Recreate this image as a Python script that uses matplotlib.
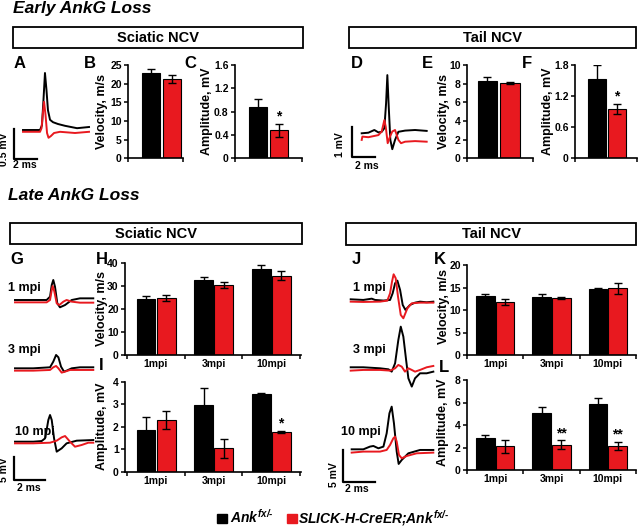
import numpy as np
import matplotlib
matplotlib.use("Agg")
import matplotlib.pyplot as plt
from matplotlib.patches import Rectangle

plt.rcParams['font.family'] = ['Liberation Sans', 'DejaVu Sans']
plt.rcParams['font.weight'] = 'bold'
plt.rcParams['mathtext.fontset'] = 'custom'
plt.rcParams['mathtext.it'] = 'Liberation Sans:italic:bold'
plt.rcParams['mathtext.rm'] = 'Liberation Sans:italic:bold'
plt.rcParams['mathtext.bf'] = 'Liberation Sans:bold'

CTRL = 'black'
KO = '#e8191f'

# ---- bar data (mean, s.e.m.) ----
timepoints = ['1mpi', '3mpi', '10mpi']

early_sciatic_vel = [22.8, 21.2]
early_sciatic_vel_err = [1.2, 1.0]
early_sciatic_amp = [0.88, 0.48]
early_sciatic_amp_err = [0.13, 0.11]
early_sciatic_amp_sig = ['', '*']

early_tail_vel = [8.32, 8.1]
early_tail_vel_err = [0.36, 0.12]
early_tail_amp = [1.53, 0.95]
early_tail_amp_err = [0.27, 0.1]
early_tail_amp_sig = ['', '*']

late_sciatic_vel_ctrl = [24.4, 32.7, 37.5]
late_sciatic_vel_ctrl_err = [1.5, 1.5, 1.8]
late_sciatic_vel_ko = [24.7, 30.5, 34.5]
late_sciatic_vel_ko_err = [1.3, 1.2, 2.0]

late_sciatic_amp_ctrl = [1.85, 2.96, 3.45]
late_sciatic_amp_ctrl_err = [0.6, 0.74, 0.05]
late_sciatic_amp_ko = [2.32, 1.04, 1.78]
late_sciatic_amp_ko_err = [0.4, 0.42, 0.05]
late_sciatic_amp_sig = ['', '', '*']

late_tail_vel_ctrl = [13.2, 12.96, 14.6]
late_tail_vel_ctrl_err = [0.3, 0.5, 0.3]
late_tail_vel_ko = [11.85, 12.7, 14.8]
late_tail_vel_ko_err = [0.7, 0.3, 1.3]

late_tail_amp_ctrl = [2.81, 5.04, 5.84]
late_tail_amp_ctrl_err = [0.33, 0.53, 0.6]
late_tail_amp_ko = [2.1, 2.25, 2.15]
late_tail_amp_ko_err = [0.55, 0.4, 0.35]
late_tail_amp_sig = ['', '**', '**']

# ---- example traces (ms, mV) ----
a_ctrl_t = [0, 1.48, 1.65, 1.78, 1.91, 2.04, 2.17, 2.35, 2.61, 3.04, 3.65, 4.7, 5.74]
a_ctrl_v = [0, 0, 0.08, 0.5, 0.95, 0.67, 0.33, 0.17, 0.13, 0.1, 0.07, 0.03, 0.05]
a_ko_t = [0, 1.48, 1.61, 1.74, 1.83, 1.96, 2.09, 2.22, 2.43, 2.7, 3.22, 4.52, 5.74]
a_ko_v = [-0.03, -0.03, 0.03, 0.3, 0.47, 0.25, -0.05, -0.13, -0.1, -0.05, -0.03, -0.05, -0.03]

d_ctrl_t = [0, 0.58, 1.1, 1.45, 1.74, 1.97, 2.12, 2.23, 2.35, 2.49, 2.66, 2.9, 3.19, 3.77, 4.64, 5.65]
d_ctrl_v = [0, 0.02, 0.11, 0.03, 0.05, 0.17, 1.0, 1.94, 0.89, -0.22, -0.53, -0.22, 0.05, 0.09, 0.11, 0.08]
d_ko_t = [0, 0.06, 0.58, 1.45, 1.74, 1.97, 2.09, 2.26, 2.46, 2.66, 2.9, 3.19, 3.42, 3.77, 4.64, 5.65]
d_ko_v = [-0.22, -0.11, -0.13, -0.06, 0.06, 0.44, 0.22, -0.33, -0.11, 0.06, 0.11, -0.22, -0.33, -0.28, -0.26, -0.28]

g1_ctrl_t = [0, 1.18, 2.04, 2.26, 2.37, 2.47, 2.58, 2.73, 2.9, 3.23, 3.66, 4.19, 5.05]
g1_ctrl_v = [0, 0, 0, 0.72, 3.26, 4.35, 2.9, -0.72, -1.59, -1.09, 0, 0.36, 0.36]
g1_ko_t = [0, 1.18, 2.04, 2.26, 2.37, 2.43, 2.54, 2.69, 2.86, 3.12, 3.33, 3.66, 4.19, 5.05]
g1_ko_v = [-0.51, -0.51, -0.51, 0, 2.17, 3.04, 1.81, -0.72, -1.09, -0.36, 0, -0.36, -0.58, -0.58]
g3_ctrl_t = [0, 1.18, 2.26, 2.47, 2.65, 2.8, 2.97, 3.16, 3.33, 3.66, 4.19, 5.05]
g3_ctrl_v = [0, 0, 0.22, 1.45, 2.9, 2.39, 0.36, -0.72, -0.51, 0, 0.22, 0.22]
g3_ko_t = [0, 1.18, 2.26, 2.47, 2.65, 2.8, 3.01, 3.23, 3.55, 4.19, 5.05]
g3_ko_v = [-0.51, -0.51, -0.36, 0.22, 0.51, 0, -0.94, -0.72, -0.36, -0.36, -0.36]
g10_ctrl_t = [0, 1.18, 1.72, 1.94, 2.04, 2.15, 2.26, 2.37, 2.52, 2.69, 3.01, 3.33, 3.98, 5.05]
g10_ctrl_v = [0, 0, 0.14, 0.72, 2.54, 4.71, 5.8, 4.71, 0.72, -2.17, -1.45, -0.36, 0.22, 0.36]
g10_ko_t = [0, 1.18, 2.26, 2.69, 3.01, 3.23, 3.55, 3.87, 4.3, 4.73, 5.05]
g10_ko_v = [-0.36, -0.36, -0.22, 0.22, 0.94, 1.23, 0, -1.09, -0.72, -0.22, -0.22]

j1_ctrl_t = [0, 0.78, 1.3, 1.5, 2.02, 2.43, 2.59, 2.74, 2.88, 3.05, 3.21, 3.38, 3.66, 3.97, 4.28, 4.69, 5.1]
j1_ctrl_v = [0, -0.1, 0.1, -0.1, -0.2, -0.1, 0.95, 2.53, 2.95, 1.47, -0.89, -1.68, -0.89, -0.53, -0.37, -0.47, -0.37]
j1_ko_t = [0, 0.78, 1.81, 2.26, 2.43, 2.55, 2.65, 2.78, 2.92, 3.09, 3.25, 3.5, 3.77, 4.28, 5.1]
j1_ko_v = [-0.37, -0.42, -0.37, -0.21, 0.95, 2.79, 3.95, 3.32, 0.42, -2.47, -3.0, -1.42, -0.63, -0.53, -0.53]
j3_ctrl_t = [0, 0.78, 1.81, 2.33, 2.53, 2.74, 2.94, 3.09, 3.25, 3.42, 3.56, 3.77, 3.97, 4.28, 4.69, 5.1]
j3_ctrl_v = [0.16, 0.16, 0, -0.16, -0.53, 0.79, 4.47, 6.58, 5.0, 1.32, -1.58, -2.89, -1.58, -0.79, -0.79, -0.53]
j3_ko_t = [0, 0.78, 1.81, 2.43, 2.74, 2.94, 3.15, 3.35, 3.56, 3.77, 3.97, 4.28, 4.69, 5.1]
j3_ko_v = [-0.37, -0.26, -0.26, -0.37, 0, 0.53, 0.26, -0.53, 0, -0.26, -0.53, -0.26, 0.16, 0.37]
j10_ctrl_t = [0.06, 0.78, 1.19, 1.4, 1.71, 2.02, 2.22, 2.39, 2.53, 2.67, 2.84, 2.96, 3.15, 3.56, 4.28, 5.1]
j10_ctrl_v = [0.1, 0.1, 0.53, 0.63, 0.26, 0.53, 2.63, 5.79, 6.84, 4.21, -0.26, -2.21, -1.58, -0.53, 0, 0]
j10_ko_t = [0.06, 0.78, 1.81, 2.22, 2.43, 2.63, 2.74, 2.84, 2.98, 3.15, 3.46, 4.07, 5.1]
j10_ko_v = [-0.42, -0.26, -0.26, 0, 0.79, 1.84, 2.1, 1.32, -0.79, -1.32, -0.95, -0.53, -0.42]

W, H = 640, 527
fig = plt.figure(figsize=(6.4, 5.27), dpi=100)


def px_axes(left, top, right, bottom):
    return fig.add_axes([left / W, 1 - bottom / H, (right - left) / W, (bottom - top) / H])


def px_text(x, y, s, **kw):
    kw.setdefault('ha', 'center')
    kw.setdefault('va', 'center')
    fig.text(x / W, 1 - y / H, s, **kw)


def px_box(left, top, right, bottom, label):
    fig.patches.append(Rectangle((left / W, 1 - bottom / H), (right - left) / W, (bottom - top) / H,
                                 transform=fig.transFigure, fill=False, lw=1.3, ec='black'))
    px_text((left + right) / 2, (top + bottom) / 2, label, fontsize=10.5)


def style_axes(ax, ymax, ystep):
    ax.set_ylim(0, ymax)
    ticks = np.arange(0, ymax + ystep / 2, ystep)
    ax.set_yticks(ticks, [f'{t:g}' for t in ticks])
    for s in ['top', 'right']:
        ax.spines[s].set_visible(False)
    for s in ['left', 'bottom']:
        ax.spines[s].set_linewidth(1.2)
    ax.tick_params(axis='y', length=3, width=1.1, pad=1.5, labelsize=7.5)


def add_sig(ax, x, tops, sig):
    for xi, top, s in zip(x, tops, sig):
        if s:
            ax.annotate(s, (xi, top), xytext=(0, 0), textcoords='offset points',
                        ha='center', va='bottom', fontsize=10)


ERR = dict(elinewidth=1, capthick=1, ecolor='black')


def pair_panel(rect, xlim, ymax, ystep, means, errs, sig=None):
    ax = px_axes(*rect)
    x = np.arange(2)
    ax.bar(x, means, width=0.88, color=[CTRL, KO], edgecolor='black', lw=0.8,
           yerr=errs, capsize=3, error_kw=ERR)
    style_axes(ax, ymax, ystep)
    ax.set_xlim(*xlim)
    ax.set_xticks(xlim, ['', ''])
    ax.tick_params(axis='x', length=3, width=1.1)
    if sig:
        add_sig(ax, x, np.add(means, errs), sig)
    return ax


def group_panel(rect, xlim, ymax, ystep, ctrl, ctrl_err, ko, ko_err, sig=None):
    ax = px_axes(*rect)
    x = np.arange(len(timepoints))
    ax.bar(x - 0.175, ctrl, width=0.33, color=CTRL, edgecolor='black', lw=0.8,
           yerr=ctrl_err, capsize=3, error_kw=ERR)
    ax.bar(x + 0.175, ko, width=0.33, color=KO, edgecolor='black', lw=0.8,
           yerr=ko_err, capsize=3, error_kw=ERR)
    style_axes(ax, ymax, ystep)
    ax.set_xlim(*xlim)
    ax.set_xticks(x, timepoints)
    ax.set_xticks(np.arange(-0.5, len(timepoints)), minor=True)
    ax.tick_params(axis='x', which='major', length=0, labelsize=7.5, pad=3)
    ax.tick_params(axis='x', which='minor', length=3, width=1.1)
    if sig:
        add_sig(ax, x + 0.175, np.add(ko, ko_err), sig)
    return ax


def trace_panel(rect, origin, ppms, ppmv, traces, bar_pos, bar_mv):
    left, top, right, bottom = rect
    x0, y0 = origin
    ax = px_axes(*rect)
    ax.set_xlim((left - x0) / ppms, (right - x0) / ppms)
    ax.set_ylim((y0 - bottom) / ppmv, (y0 - top) / ppmv)
    ax.axis('off')
    for t, v, color, offset in traces:
        ax.plot(t, np.asarray(v) - offset, color=color, lw=1.4, solid_joinstyle='round')
    bt, bv = bar_pos
    ax.plot([bt, bt, bt + 2], [bv + bar_mv, bv, bv], color='black', lw=1.6)
    return ax


# ---- headings ----
px_text(13, 8, 'Early AnkG Loss', ha='left', fontsize=12.5, style='italic')
px_text(8, 195, 'Late AnkG Loss', ha='left', fontsize=12.5, style='italic')
px_box(13, 27, 303, 48, 'Sciatic NCV')
px_box(349, 27, 636, 48, 'Tail NCV')
px_box(10, 223, 302, 244, 'Sciatic NCV')
px_box(346, 223, 636, 245, 'Tail NCV')

for letter, x, y in [('A', 20, 63), ('B', 90, 63), ('C', 190, 63), ('D', 357, 63),
                     ('E', 427, 63), ('F', 527, 63), ('G', 17, 260), ('H', 102, 260),
                     ('I', 101, 365), ('J', 356, 260), ('K', 440, 260), ('L', 444, 367)]:
    px_text(x, y, letter, fontsize=12)

# ---- early traces ----
trace_panel((0, 60, 100, 175), (23, 130), 11.5, 60,
            [(a_ctrl_t, a_ctrl_v, CTRL, 0), (a_ko_t, a_ko_v, KO, 0)], (-0.78, -0.48), 0.5)
px_text(4.5, 149, '0.5 mV', fontsize=7.5, rotation=90)
px_text(25, 165, '2 ms', fontsize=7.5)

trace_panel((330, 60, 440, 175), (361.7, 133.3), 11.5, 30,
            [(d_ctrl_t, d_ctrl_v, CTRL, 0), (d_ko_t, d_ko_v, KO, 0)], (-0.82, -0.78), 1)
px_text(340, 145, '1 mV', fontsize=7.5, rotation=90)
px_text(367, 166, '2 ms', fontsize=7.5)

# ---- early bars ----
pair_panel((128, 65, 183, 158.3), (-1.095, 1.524), 25, 5, early_sciatic_vel, early_sciatic_vel_err)
pair_panel((235, 65, 302, 158.3), (-1.095, 2.095), 1.6, 0.4, early_sciatic_amp,
           early_sciatic_amp_err, early_sciatic_amp_sig)
pair_panel((467, 65, 533, 158.3), (-0.91, 2.02), 10, 2, early_tail_vel, early_tail_vel_err)
pair_panel((575, 65, 637, 158.3), (-1.1, 2.0), 1.8, 0.6, early_tail_amp,
           early_tail_amp_err, early_tail_amp_sig)
px_text(102, 111, 'Velocity, m/s', fontsize=9, rotation=90)
px_text(207, 111, 'Amplitude, mV', fontsize=9, rotation=90)
px_text(444, 111, 'Velocity, m/s', fontsize=9, rotation=90)
px_text(547.5, 111, 'Amplitude, mV', fontsize=9, rotation=90)

# ---- late traces ----
trace_panel((0, 255, 100, 500), (15, 300), 15.5, 4.6,
            [(g1_ctrl_t, g1_ctrl_v, CTRL, 0), (g1_ko_t, g1_ko_v, KO, 0),
             (g3_ctrl_t, g3_ctrl_v, CTRL, 14.85), (g3_ko_t, g3_ko_v, KO, 14.85),
             (g10_ctrl_t, g10_ctrl_v, CTRL, 30.8), (g10_ko_t, g10_ko_v, KO, 30.8)],
            (-0.06, -39.1), 5)
trace_panel((330, 255, 440, 500), (350.7, 299.3), 16.2, 6.33,
            [(j1_ctrl_t, j1_ctrl_v, CTRL, 0), (j1_ko_t, j1_ko_v, KO, 0),
             (j3_ctrl_t, j3_ctrl_v, CTRL, 10.9), (j3_ko_t, j3_ko_v, KO, 10.9),
             (j10_ctrl_t, j10_ctrl_v, CTRL, 23.8), (j10_ko_t, j10_ko_v, KO, 23.8)],
            (-0.49, -28.8), 5)
for x, y, s in [(8, 288, '1 mpi'), (8, 350, '3 mpi'), (15, 432, '10 mpi'),
                (353, 288, '1 mpi'), (353, 350, '3 mpi'), (341, 432, '10 mpi')]:
    px_text(x, y, s, ha='left', fontsize=9)
px_text(4.5, 470, '5 mV', fontsize=7.5, rotation=90)
px_text(28.5, 488, '2 ms', fontsize=7.5)
px_text(334, 475, '5 mV', fontsize=7.5, rotation=90)
px_text(357, 489, '2 ms', fontsize=7.5)

# ---- late bars ----
group_panel((125, 263.3, 301, 355), (-0.54, 2.52), 40, 10,
            late_sciatic_vel_ctrl, late_sciatic_vel_ctrl_err, late_sciatic_vel_ko, late_sciatic_vel_ko_err)
group_panel((125, 381.7, 301, 471.7), (-0.54, 2.52), 4, 1,
            late_sciatic_amp_ctrl, late_sciatic_amp_ctrl_err, late_sciatic_amp_ko, late_sciatic_amp_ko_err,
            late_sciatic_amp_sig)
group_panel((467, 265, 636, 355), (-0.49, 2.47), 20, 5,
            late_tail_vel_ctrl, late_tail_vel_ctrl_err, late_tail_vel_ko, late_tail_vel_ko_err)
group_panel((467, 380, 636, 470), (-0.49, 2.47), 8, 2,
            late_tail_amp_ctrl, late_tail_amp_ctrl_err, late_tail_amp_ko, late_tail_amp_ko_err,
            late_tail_amp_sig)
px_text(102.5, 309, 'Velocity, m/s', fontsize=9, rotation=90)
px_text(102.5, 426, 'Amplitude, mV', fontsize=9, rotation=90)
px_text(444, 307, 'Velocity, m/s', fontsize=9, rotation=90)
px_text(443, 422, 'Amplitude, mV', fontsize=9, rotation=90)

# ---- legend ----
for x, color in [(217, CTRL), (287, KO)]:
    fig.patches.append(Rectangle((x / W, 1 - 523 / H), 10 / W, 9 / H, transform=fig.transFigure,
                                 color=color))
px_text(230, 523, r'$Ank^{fx/\text{-}}$', ha='left', va='baseline', fontsize=10)
px_text(298, 523, r'SLICK-H-CreER;$Ank^{fx/\text{-}}$', ha='left', va='baseline', fontsize=10,
        style='italic')

fig.savefig('out.png', dpi=100)
